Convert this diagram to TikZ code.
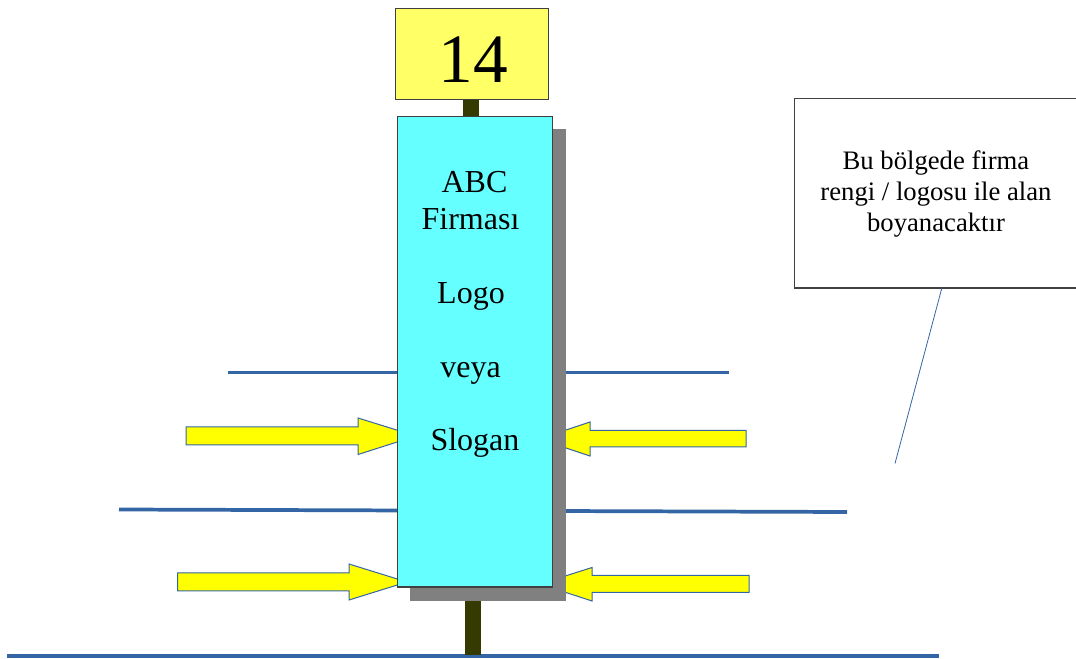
\documentclass[tikz,border=0pt]{standalone}
\usepackage{fontspec}
\setmainfont{Liberation Serif}
\definecolor{wireblue}{HTML}{3465A4}
\definecolor{mastcol}{HTML}{353B00}
\definecolor{bodycol}{HTML}{66FFFF}
\definecolor{signcol}{HTML}{FFFF66}
\definecolor{arrowcol}{HTML}{FFFF00}
\definecolor{shadowcol}{HTML}{808080}
\tikzset{
  wire/.style={draw=wireblue,line width=2.8pt},
  mast/.style={fill=mastcol,draw=none},
  yarrow/.style={fill=arrowcol,draw=wireblue,line width=0.75pt,line join=miter},
  boxnode/.style={draw=black!75,line width=0.9pt,inner sep=0pt,minimum width=#1},
  paneltext/.style={font=\fontsize{24}{28}\selectfont,inner sep=0pt,anchor=base},
  notetext/.style={font=\fontsize{20}{23.25}\selectfont,align=center,inner sep=0pt}
}
\begin{document}
\begin{tikzpicture}[x=0.75pt,y=-0.75pt]
\useasboundingbox (0,0) rectangle (1076,659);
% base wires
\coordinate (w1a) at (228,372.5); \coordinate (w1b) at (729,372.5);
\coordinate (w2a) at (119,509.5); \coordinate (w2b) at (847,512);
\coordinate (w3a) at (7,656); \coordinate (w3b) at (939,656);
\draw[wire] (w1a) -- (w1b);
\draw[wire] (w2a) -- (w2b);
\draw[wire] (w3a) -- (w3b);
% masts
\fill[mast] (463,95) rectangle (478.5,120);
\fill[mast] (465,595) rectangle (480.5,654.5);
% arrows
\draw[yarrow] (186,427) -- (358,427) -- (358,418) -- (416,436) -- (358,454.5) -- (358,445) -- (186,445) -- cycle;
\draw[yarrow] (177.5,573) -- (349,573) -- (349,564) -- (407,582) -- (349,600) -- (349,591) -- (177.5,591) -- cycle;
\draw[yarrow] (746,430.5) -- (590,430.5) -- (590,422) -- (539,439) -- (590,456) -- (590,447) -- (746,447) -- cycle;
\draw[yarrow] (749,575.5) -- (592,575.5) -- (592,567.5) -- (540,584) -- (592,601) -- (592,592.5) -- (749,592.5) -- cycle;
% panel
\fill[shadowcol] (410,129) rectangle (566,601);
\node[boxnode=155*0.75pt,fill=bodycol,minimum height=470.5*0.75pt,anchor=north west] (panel) at (397,116) {};
\node[boxnode=152.5*0.75pt,fill=signcol,minimum height=91*0.75pt,anchor=north west] (sign) at (395,8) {};
\node[font=\fontsize{52}{56}\selectfont,inner sep=0pt,anchor=base] (num) at (473,83) {14};
\node[paneltext] (t1) at (474.5,193) {ABC};
\node[paneltext] (t2) at (470.5,230) {Firması};
\node[paneltext] (t3) at (471,304) {Logo};
\node[paneltext] (t4) at (470.5,378) {veya};
\node[paneltext] (t5) at (475,451) {Slogan};
% note
\node[boxnode=290*0.75pt,fill=white,minimum height=189.5*0.75pt,anchor=north west] (note) at (794,98) {};
\node[notetext] (notetxt) at (936,193.5) {Bu bölgede firma\\rengi / logosu ile alan\\boyanacaktır};
\coordinate (noteend) at (895,463.5);
\coordinate (notestart) at (942,287.5);
\draw[draw=wireblue,line width=0.6pt] (notestart) -- (noteend);
\end{tikzpicture}
\end{document}
